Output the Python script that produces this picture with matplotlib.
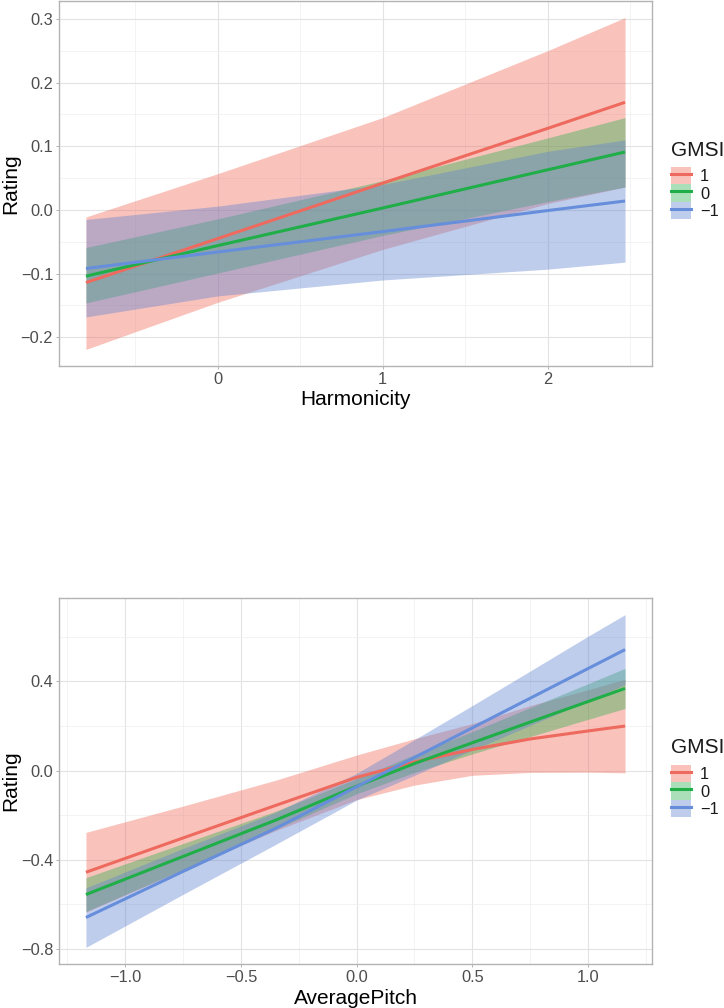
import matplotlib
matplotlib.use('Agg')
import matplotlib.pyplot as plt
from matplotlib.lines import Line2D
from matplotlib.patches import Patch
from matplotlib.legend_handler import HandlerTuple

plt.rcParams['font.family'] = ['Liberation Sans', 'DejaVu Sans']

# GMSI levels, in drawing order
gmsi_labels = ['1', '0', '\u22121']
line_colors = ['#EE6A5E', '#20AE48', '#668EDB']
band_colors = ['#F06A58', '#2FB050', '#5F82D2']

# --- top panel: Harmonicity ---
harm_x = [-0.8, 0.0, 1.0, 2.0, 2.47]

harm_pos_fit = [-0.114, -0.045, 0.042, 0.128, 0.169]
harm_pos_hi = [-0.011, 0.057, 0.145, 0.250, 0.302]
harm_pos_lo = [-0.219, -0.145, -0.062, 0.010, 0.036]

harm_zero_fit = [-0.104, -0.056, 0.003, 0.063, 0.091]
harm_zero_hi = [-0.059, -0.014, 0.046, 0.113, 0.145]
harm_zero_lo = [-0.146, -0.099, -0.040, 0.013, 0.036]

harm_neg_fit = [-0.092, -0.066, -0.034, -0.001, 0.014]
harm_neg_hi = [-0.015, 0.006, 0.040, 0.092, 0.110]
harm_neg_lo = [-0.168, -0.135, -0.110, -0.093, -0.082]

# --- bottom panel: AveragePitch ---
pitch_x = [-1.17, -0.75, -0.35, 0.0, 0.25, 0.5, 0.75, 1.0, 1.16]

pitch_pos_fit = [-0.456, -0.302, -0.156, -0.030, 0.039, 0.095, 0.142, 0.178, 0.200]
pitch_pos_hi = [-0.277, -0.159, -0.043, 0.070, 0.143, 0.211, 0.292, 0.363, 0.410]
pitch_pos_lo = [-0.635, -0.445, -0.269, -0.130, -0.065, -0.021, -0.008, -0.007, -0.010]

pitch_zero_fit = [-0.556, -0.385, -0.222, -0.070, 0.032, 0.125, 0.218, 0.310, 0.369]
pitch_zero_hi = [-0.480, -0.327, -0.182, -0.036, 0.072, 0.175, 0.283, 0.390, 0.459]
pitch_zero_lo = [-0.632, -0.443, -0.262, -0.104, -0.008, 0.075, 0.153, 0.230, 0.279]

pitch_neg_fit = [-0.659, -0.452, -0.259, -0.072, 0.059, 0.192, 0.325, 0.458, 0.543]
pitch_neg_hi = [-0.526, -0.349, -0.187, -0.012, 0.139, 0.292, 0.447, 0.603, 0.700]
pitch_neg_lo = [-0.793, -0.555, -0.331, -0.132, -0.021, 0.092, 0.203, 0.313, 0.386]

W, H = 724, 1008
fig = plt.figure(figsize=(W / 100, H / 100), dpi=100)


def add_axes_px(left, top, right, bottom):
    return fig.add_axes([left / W, 1 - bottom / H, (right - left) / W, (bottom - top) / H])


def draw_panel(ax, x, groups, xmajor, xminor, ymajor, yminor, xlabel, xlabel_y):
    # ribbon then line, group by group (later ribbons cover earlier lines)
    for (fit, lo, hi), lc, bc in zip(groups, line_colors, band_colors):
        ax.fill_between(x, lo, hi, color=bc, alpha=0.4, lw=0)
        ax.plot(x, fit, color=lc, lw=2.2, solid_capstyle='butt')
    ax.margins(x=0.05, y=0.05)

    ax.set_xticks(xmajor)
    ax.set_xticks(xminor, minor=True)
    ax.set_yticks(ymajor)
    ax.set_yticks(yminor, minor=True)
    ax.grid(True, which='major', color='#e3e3e3', lw=0.8)
    ax.grid(True, which='minor', color='#efefef', lw=0.5)
    ax.set_axisbelow(True)

    for s in ax.spines.values():
        s.set_color('#b3b3b3')
        s.set_linewidth(1.0)
    ax.tick_params(which='major', length=2.2, width=0.7, color='#b3b3b3',
                   labelsize=11.8, labelcolor='#4d4d4d', pad=2)
    ax.tick_params(which='minor', length=0)

    ax.set_xlabel(xlabel, fontsize=15, va='baseline')
    ax.xaxis.set_label_coords(0.5, xlabel_y)
    ax.set_ylabel('Rating', fontsize=15, va='center')
    ax.yaxis.set_label_coords(-0.0818, 0.5)


def add_legend(ax, title_baseline, keys_top):
    fig.text(671 / W, 1 - title_baseline / H, 'GMSI', fontsize=15,
             va='baseline', ha='left', color='#1a1a1a')
    handles = [(Patch(facecolor=bc, alpha=0.4, lw=0), Line2D([], [], color=lc, lw=2.2))
               for lc, bc in zip(line_colors, band_colors)]
    fs_px = 11.8 * 100 / 72
    ax.legend(handles, gmsi_labels, handler_map={tuple: HandlerTuple()},
              loc='upper left', bbox_to_anchor=(671 / W, 1 - keys_top / H),
              bbox_transform=fig.transFigure, frameon=False, borderpad=0,
              borderaxespad=0, labelspacing=0, handlelength=20 / fs_px,
              handleheight=20.5 / fs_px, handletextpad=0.55, fontsize=11.8,
              labelcolor='#1a1a1a')


# top panel
ax1 = add_axes_px(59, 1, 652, 366)
draw_panel(ax1, harm_x,
           [(harm_pos_fit, harm_pos_lo, harm_pos_hi),
            (harm_zero_fit, harm_zero_lo, harm_zero_hi),
            (harm_neg_fit, harm_neg_lo, harm_neg_hi)],
           [0, 1, 2], [-0.5, 0.5, 1.5, 2.5],
           [-0.2, -0.1, 0.0, 0.1, 0.2, 0.3], [-0.15, -0.05, 0.05, 0.15, 0.25],
           'Harmonicity', (366 - 405) / 365)
add_legend(ax1, 156, 167)

# bottom panel
ax2 = add_axes_px(59, 598, 652, 964)
draw_panel(ax2, pitch_x,
           [(pitch_pos_fit, pitch_pos_lo, pitch_pos_hi),
            (pitch_zero_fit, pitch_zero_lo, pitch_zero_hi),
            (pitch_neg_fit, pitch_neg_lo, pitch_neg_hi)],
           [-1.0, -0.5, 0.0, 0.5, 1.0], [-1.25, -0.75, -0.25, 0.25, 0.75, 1.25],
           [-0.8, -0.4, 0.0, 0.4], [-0.6, -0.2, 0.2, 0.6],
           'AveragePitch', (964 - 1003.5) / 366)
add_legend(ax2, 753, 765)

fig.savefig('out.png', dpi=100, facecolor='white')
